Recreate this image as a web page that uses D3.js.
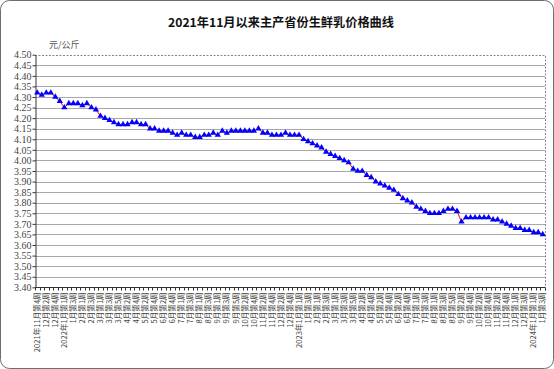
<!DOCTYPE html>
<html><head><meta charset="utf-8">
<script src="https://cdn.jsdelivr.net/npm/d3@7"></script>
<style>body{margin:0;background:#fff}svg{display:block}</style>
</head><body>
<svg id="c" width="554" height="369"></svg>
<script>
const categories = [
"2021年11月第4周","12月第1周","12月第2周","12月第3周","12月第4周","12月第5周",
"2022年1月第1周","1月第2周","1月第3周","1月第4周",
"2月第1周","2月第2周","2月第3周","2月第4周",
"3月第1周","3月第2周","3月第3周","3月第4周","3月第5周",
"4月第1周","4月第2周","4月第3周","4月第4周",
"5月第1周","5月第2周","5月第3周","5月第4周",
"6月第1周","6月第2周","6月第3周","6月第4周","6月第5周",
"7月第1周","7月第2周","7月第3周","7月第4周",
"8月第1周","8月第2周","8月第3周","8月第4周",
"9月第1周","9月第2周","9月第3周","9月第4周","9月第5周",
"10月第1周","10月第2周","10月第3周","10月第4周",
"11月第1周","11月第2周","11月第3周","11月第4周",
"12月第1周","12月第2周","12月第3周","12月第4周","12月第5周",
"2023年1月第1周","1月第2周","1月第3周","1月第4周",
"2月第1周","2月第2周","2月第3周","2月第4周",
"3月第1周","3月第2周","3月第3周","3月第4周","3月第5周",
"4月第1周","4月第2周","4月第3周","4月第4周",
"5月第1周","5月第2周","5月第3周","5月第4周",
"6月第1周","6月第2周","6月第3周","6月第4周","6月第5周",
"7月第1周","7月第2周","7月第3周","7月第4周",
"8月第1周","8月第2周","8月第3周","8月第4周","8月第5周",
"9月第1周","9月第2周","9月第3周","9月第4周",
"10月第1周","10月第2周","10月第3周","10月第4周",
"11月第1周","11月第2周","11月第3周","11月第4周","11月第5周",
"12月第1周","12月第2周","12月第3周","12月第4周",
"2024年1月第1周","1月第2周","1月第3周"
];
const price = [
4.32,4.31,4.32,4.32,4.30,4.28,
4.25,4.27,4.27,4.27,
4.26,4.27,4.25,4.24,
4.21,4.20,4.19,4.18,4.17,
4.17,4.17,4.18,4.18,
4.17,4.17,4.15,4.15,
4.14,4.14,4.14,4.13,4.12,
4.13,4.12,4.12,4.11,
4.11,4.12,4.12,4.13,
4.12,4.14,4.13,4.14,4.14,
4.14,4.14,4.14,4.14,
4.15,4.13,4.13,4.12,
4.12,4.12,4.13,4.12,4.12,
4.12,4.10,4.09,4.08,
4.07,4.06,4.04,4.03,
4.02,4.01,4.00,3.99,3.96,
3.95,3.95,3.93,3.92,
3.90,3.89,3.88,3.87,
3.86,3.84,3.82,3.81,3.80,
3.78,3.77,3.76,3.75,
3.75,3.75,3.76,3.77,3.77,
3.76,3.71,3.73,3.73,
3.73,3.73,3.73,3.73,
3.72,3.72,3.71,3.70,3.69,
3.68,3.68,3.67,3.67,
3.66,3.66,3.65
];
const yTicks = [3.40,3.45,3.50,3.55,3.60,3.65,3.70,3.75,3.80,3.85,3.90,3.95,4.00,4.05,4.10,4.15,4.20,4.25,4.30,4.35,4.40,4.45,4.50];
const titleText = "2021年11月以来主产省份生鲜乳价格曲线";
const unitText = "元/公斤";

const svg = d3.select("#c");
const L = 35, R = 545, T = 54.7, B = 287.3;
const cjk = "'Noto Sans CJK SC', 'Noto Sans', sans-serif";
const serif = "'Liberation Serif', 'DejaVu Serif', serif";

svg.append("rect").attr("x",0.5).attr("y",0.5).attr("width",553).attr("height",368)
  .attr("rx",9).attr("fill","#fff").attr("stroke","#6e6e6e");

const idx = categories.map((d, i) => i);
const x = d3.scaleBand().domain(idx).range([L, R]);
const y = d3.scaleLinear().domain([3.40, 4.50]).range([B, T]);
const bw = x.bandwidth();

// grid lines
svg.append("g").selectAll("line").data(yTicks.filter(v => v > 3.40 && v < 4.50)).join("line")
  .attr("x1", L).attr("x2", R)
  .attr("y1", d => Math.round(y(d)) + 0.5).attr("y2", d => Math.round(y(d)) + 0.5)
  .attr("stroke", "#a8a8a8").attr("stroke-width", 1);

// top & right borders (dotted)
svg.append("path")
  .attr("d", `M${L},${Math.round(T)+0.5}H${R+0.5}V${Math.round(B)}`)
  .attr("fill","none").attr("stroke","#888").attr("stroke-dasharray","2,1.5");

// y axis
const ya = svg.append("g").attr("transform", `translate(${L+0.5},0)`)
  .call(d3.axisLeft(y).tickValues(yTicks).tickFormat(d3.format(".2f")).tickSize(3).tickSizeOuter(0));
ya.select(".domain").attr("stroke", "#333");
ya.selectAll(".tick line").attr("stroke", "#333");
ya.selectAll(".tick text").attr("font-family", serif).attr("font-size", 10).attr("fill", "#444").attr("x", -4);

// x axis line & ticks at category boundaries
svg.append("line").attr("x1", L).attr("x2", R+0.5)
  .attr("y1", Math.round(B)+0.5).attr("y2", Math.round(B)+0.5).attr("stroke", "#333");
svg.append("g").selectAll("line").data(idx.concat([-1])).join("line")
  .attr("x1", d => Math.round(d < 0 ? R : x(d)) + 0.5)
  .attr("x2", d => Math.round(d < 0 ? R : x(d)) + 0.5)
  .attr("y1", Math.round(B)+0.5).attr("y2", Math.round(B)+3.5)
  .attr("stroke", "#333");

// x labels (every other category)
svg.append("g").selectAll("text").data(idx.filter(i => i % 2 === 0)).join("text")
  .attr("transform", i => `translate(${x(i) + bw/2},${B + 5}) rotate(-90)`)
  .attr("text-anchor", "end").attr("dy", "0.35em")
  .attr("font-family", cjk).attr("font-size", 7.6).attr("fill", "#444")
  .text(i => categories[i]);

// line
const line = d3.line().x((d, i) => x(i) + bw/2).y(d => y(d));
svg.append("path").datum(price).attr("d", line)
  .attr("fill", "none").attr("stroke", "#ff0000").attr("stroke-width", 1);

// markers
const tri = d3.symbol(d3.symbolTriangle, 17);
svg.append("g").selectAll("path").data(price).join("path")
  .attr("transform", (d, i) => `translate(${x(i) + bw/2},${y(d)})`)
  .attr("d", tri).attr("fill", "#0000ff");

// title
svg.append("text").attr("x", 281).attr("y", 27).attr("text-anchor", "middle")
  .attr("font-family", cjk).attr("font-weight", "bold").attr("font-size", 12.2).attr("fill", "#111")
  .text(titleText);

// unit
svg.append("text").attr("x", 49).attr("y", 48)
  .attr("font-family", cjk).attr("font-size", 9).attr("fill", "#555")
  .text(unitText);
</script>
</body></html>
